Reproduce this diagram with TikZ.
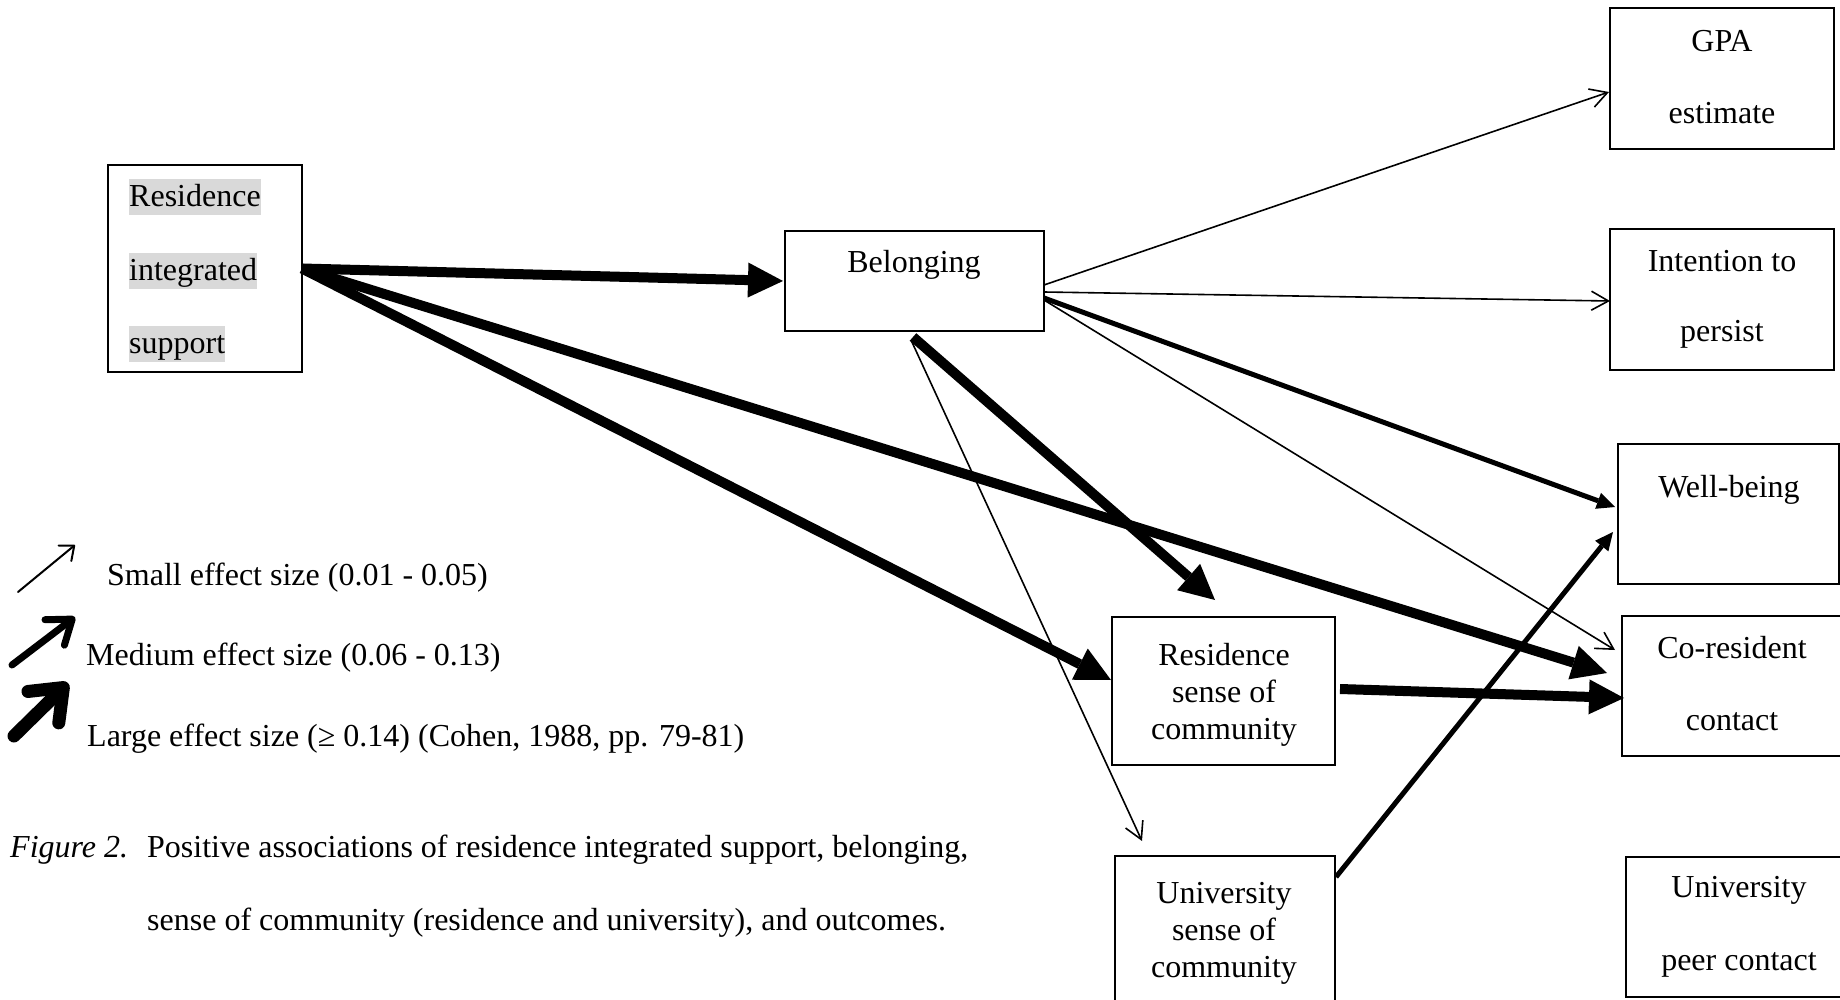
\documentclass[tikz,border=0pt]{standalone}
\usepackage{fontspec}
\setmainfont{Liberation Serif}
\usetikzlibrary{arrows.meta,calc}
\begin{document}
\begin{tikzpicture}[x=1pt,y=-1pt,
  box/.style={draw,line width=2.5pt,inner sep=0pt,outer sep=0pt},
  txt/.style={inner sep=0pt,anchor=base,font=\fontsize{32}{38}\selectfont},
  hl/.style={txt,anchor=base west,fill=black!15,text height=28pt,text depth=8pt},
  lbl/.style={txt,anchor=base west},
  smallarr/.style={line width=1.6pt,-{Straight Barb[length=17pt,width=19pt]}},
  medarr/.style={line width=5pt,-{Triangle[length=18pt,width=17pt,line width=0pt]}},
  largearr/.style={line width=10pt,-{Triangle[length=35pt,width=35pt,line width=0pt]}},
]
\useasboundingbox (0,0) rectangle (1840,1000);
\fill[white] (0,0) rectangle (1840,1000);

% boxes
\node[box,minimum width=194pt,minimum height=207pt] (ris) at (205,268.5) {};
\node[box,minimum width=259pt,minimum height=100pt] (bel) at (914.5,281) {};
\node[box,minimum width=224pt,minimum height=141pt] (gpa) at (1722,78.5) {};
\node[box,minimum width=224pt,minimum height=141pt] (int) at (1722,299.5) {};
\node[box,minimum width=221pt,minimum height=140pt] (wb) at (1728.5,514) {};
\node[box,minimum width=223pt,minimum height=140pt] (cor) at (1733.5,686) {};
\node[box,minimum width=223pt,minimum height=148pt] (rsoc) at (1223.5,691) {};
\node[box,minimum width=220pt,minimum height=154pt] (usoc) at (1225,933) {};
\node[box,minimum width=219pt,minimum height=140pt] (upc) at (1735.5,927) {};

% box texts
\node[hl] (ris1) at (129,207) {Residence};
\node[hl] (ris2) at (129,281) {integrated};
\node[hl] (ris3) at (129,354) {support};
\node[txt] (belt) at (914,273) {Belonging};
\node[txt] (gpa1) at (1722,52) {GPA};
\node[txt] (gpa2) at (1722,124) {estimate};
\node[txt] (int1) at (1722,272) {Intention to};
\node[txt] (int2) at (1722,342) {persist};
\node[txt] (wb1) at (1729,497) {Well-being};
\node[txt] (cor1) at (1732,658) {Co-resident};
\node[txt] (cor2) at (1732,730) {contact};
\node[txt] (rs1) at (1224,665) {Residence};
\node[txt] (rs2) at (1224,702) {sense of};
\node[txt] (rs3) at (1224,739) {community};
\node[txt] (us1) at (1224,903) {University};
\node[txt] (us2) at (1224,940) {sense of};
\node[txt] (us3) at (1224,977) {community};
\node[txt] (up1) at (1739,897) {University};
\node[txt] (up2) at (1739,970) {peer contact};

% connectors
\draw[largearr] (ris.east) -- ($(bel.west)+(-2,0)$);
\draw[largearr] (ris.east) -- ($(cor.west)+(-15,-13)$);
\draw[largearr] (ris.east) -- ($(rsoc.west)+(-1,-11)$);
\draw[smallarr] ($(bel.east)+(0,4)$) -- ($(gpa.west)+(-1,13.5)$);
\draw[smallarr] ($(bel.east)+(0,11)$) -- ($(int.west)+(0,1.5)$);
\draw[medarr] ($(bel.east)+(0,17)$) -- ($(wb.west)+(-3,-7)$);
\draw[smallarr] ($(bel.east)+(0,19)$) -- ($(cor.west)+(-7,-36)$);
\draw[largearr] ($(bel.south)+(-1.5,6)$) -- ($(rsoc.north)+(-8.5,-17)$);
\draw[smallarr] ($(bel.south)+(-3.5,9)$) -- ($(usoc.north)+(-83,-15)$);
\draw[largearr] ($(rsoc.east)+(5,-2)$) -- ($(cor.west)+(2,12)$);
\draw[medarr] ($(usoc.east)+(1,-56)$) -- ($(wb.west)+(-5,18)$);

% legend
\coordinate (l1s) at (18,592); \coordinate (l1e) at (75,545);
\coordinate (l2s) at (12,665); \coordinate (l2e) at (75,617);
\coordinate (l3s) at (14,736); \coordinate (l3e) at (68,683);
\draw[line width=2pt,line cap=round,-{Straight Barb[length=12pt,width=20pt,round]}] (l1s) -- (l1e);
\draw[line width=7pt,line cap=round,-{Straight Barb[length=22pt,width=32pt,round]}] (l2s) -- (l2e);
\draw[line width=13pt,line cap=round,-{Straight Barb[length=28pt,width=44pt,round]}] (l3s) -- (l3e);
\node[lbl] (leg1) at (107,585) {Small effect size (0.01 - 0.05)};
\node[lbl] (leg2) at (86,665) {Medium effect size (0.06 - 0.13)};
\node[lbl] (leg3) at (87,746) {Large effect size (≥ 0.14) (Cohen, 1988, pp. 79-81)};

% caption
\node[lbl] (figl) at (10,857) {\textit{Figure 2.}};
\node[lbl] (cap1) at (147,857) {Positive associations of residence integrated support, belonging,};
\node[lbl] (cap2) at (147,930) {sense of community (residence and university), and outcomes.};
\end{tikzpicture}
\end{document}
